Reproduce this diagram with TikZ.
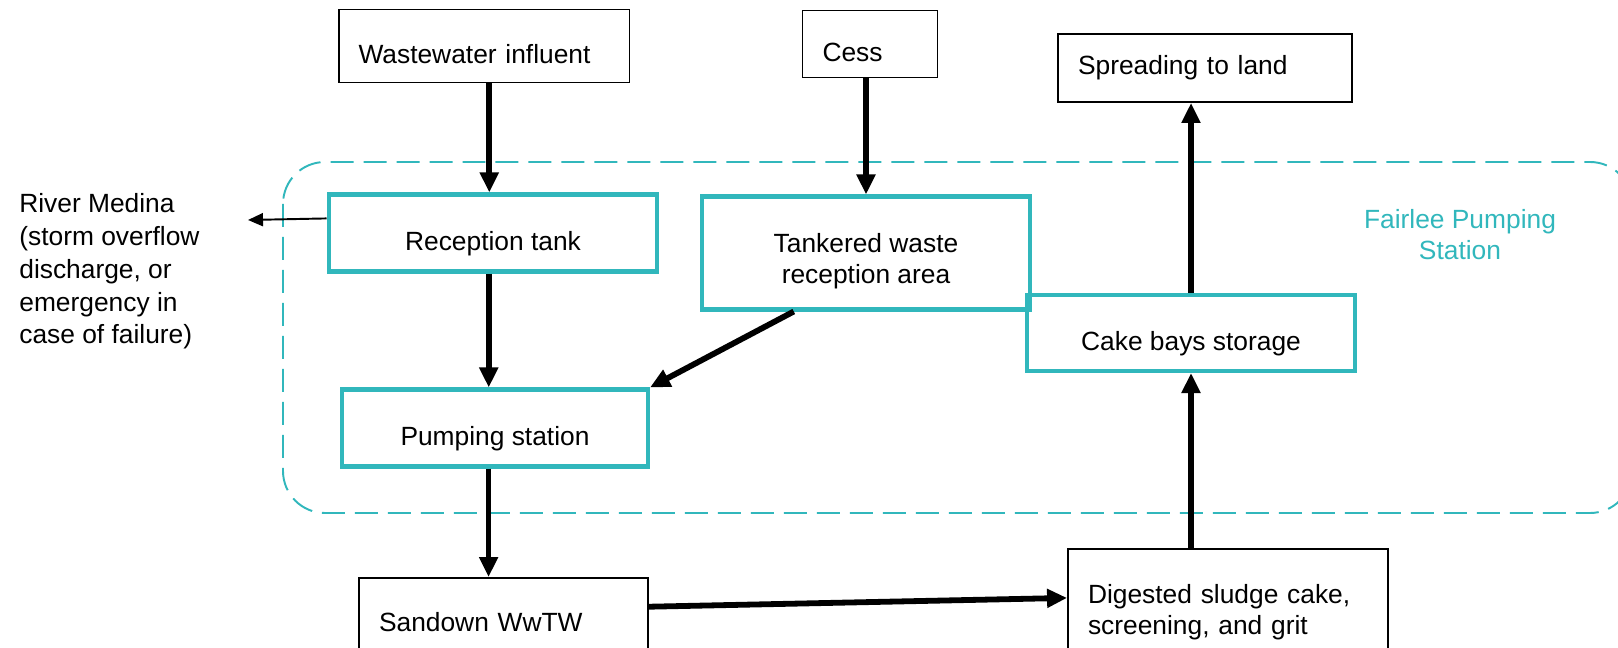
\documentclass[tikz,border=0pt]{standalone}
\usepackage{fontspec}
\setmainfont{Liberation Sans}
\usetikzlibrary{arrows.meta}

\definecolor{fairteal}{RGB}{49,183,188}

\tikzset{
  blackbox/.style={draw=black, line width=1.1pt, inner xsep=0.4cm, inner ysep=0.1cm, align=left},
  tealbox/.style={draw=fairteal, line width=2.3pt, align=center},
  lowtext/.style={text height=0.8cm, text depth=0.1cm},
  flow/.style={line width=3.3pt, -{Triangle[length=0.4cm, width=0.36cm]}},
  thinflow/.style={line width=1.1pt, -{Triangle[length=0.3cm, width=0.26cm]}},
  zone/.style={draw=fairteal, line width=1.1pt, dash pattern=on 0.46cm off 0.2cm, rounded corners=0.84cm}
}

\begin{document}
\begin{tikzpicture}[x=0.02cm, y=-0.02cm, every node/.append style={font=\fontsize{15}{17.6}\selectfont}]
\useasboundingbox (0,0) rectangle (1618,648);

\draw[zone] (283,162) rectangle (1632,513);

\node[blackbox, lowtext, text width=5.02cm, minimum height=1.46cm] (Influent) at (484,46) {Wastewater influent};
\node[blackbox, lowtext, text width=1.9cm, minimum height=1.34cm] (Cess) at (870,44) {Cess};
\node[blackbox, text width=5.08cm, minimum height=1.36cm] (Spreading) at (1205,68) {Spreading to land};

\node[tealbox, lowtext, minimum width=6.58cm, minimum height=1.54cm] (Reception) at (493,233) {Reception tank};
\node[tealbox, minimum width=6.56cm, minimum height=2.26cm] (Tankered) at (866,253) {\rule{0pt}{0.7cm}Tankered waste\\reception area};
\node[tealbox, lowtext, minimum width=6.56cm, minimum height=1.52cm] (CakeBays) at (1191,333) {Cake bays storage};
\node[tealbox, lowtext, minimum width=6.12cm, minimum height=1.54cm] (Pumping) at (495,428) {Pumping station};

\node[blackbox, text width=4.98cm, minimum height=1.76cm] (Sandown) at (503.5,622) {Sandown WwTW};
\node[blackbox, text width=5.6cm, minimum height=2.52cm] (Digested) at (1228,612) {Digested sludge cake,\\screening, and grit};

\node[align=left, anchor=north west, inner sep=0pt, font=\fontsize{15}{18.7}\selectfont] (River) at (19,193) {River Medina\\(storm overflow\\discharge, or\\emergency in\\case of failure)};
\node[text=fairteal, align=center] (Fairlee) at (1460,235) {Fairlee Pumping\\Station};

\coordinate (Outfall) at (248,220);

\draw[flow] (Influent.278) -- (Influent.278 |- Reception.north);
\draw[flow] (Tankered.north |- Cess.south) -- (Tankered.north);
\draw[flow] (Reception.264) -- (Reception.264 |- Pumping.north);
\draw[flow] (Tankered.219) -- (Pumping.north east);
\draw[flow] (Pumping.261) -- (Pumping.261 |- Sandown.north);
\draw[flow] (Sandown.6) -- (Digested.175);
\draw[flow] (Digested.north -| CakeBays.south) -- (CakeBays.south);
\draw[flow] (CakeBays.north) -- (CakeBays.north |- Spreading.south);
\draw[thinflow] (Reception.175) -- (Outfall);

\end{tikzpicture}
\end{document}
